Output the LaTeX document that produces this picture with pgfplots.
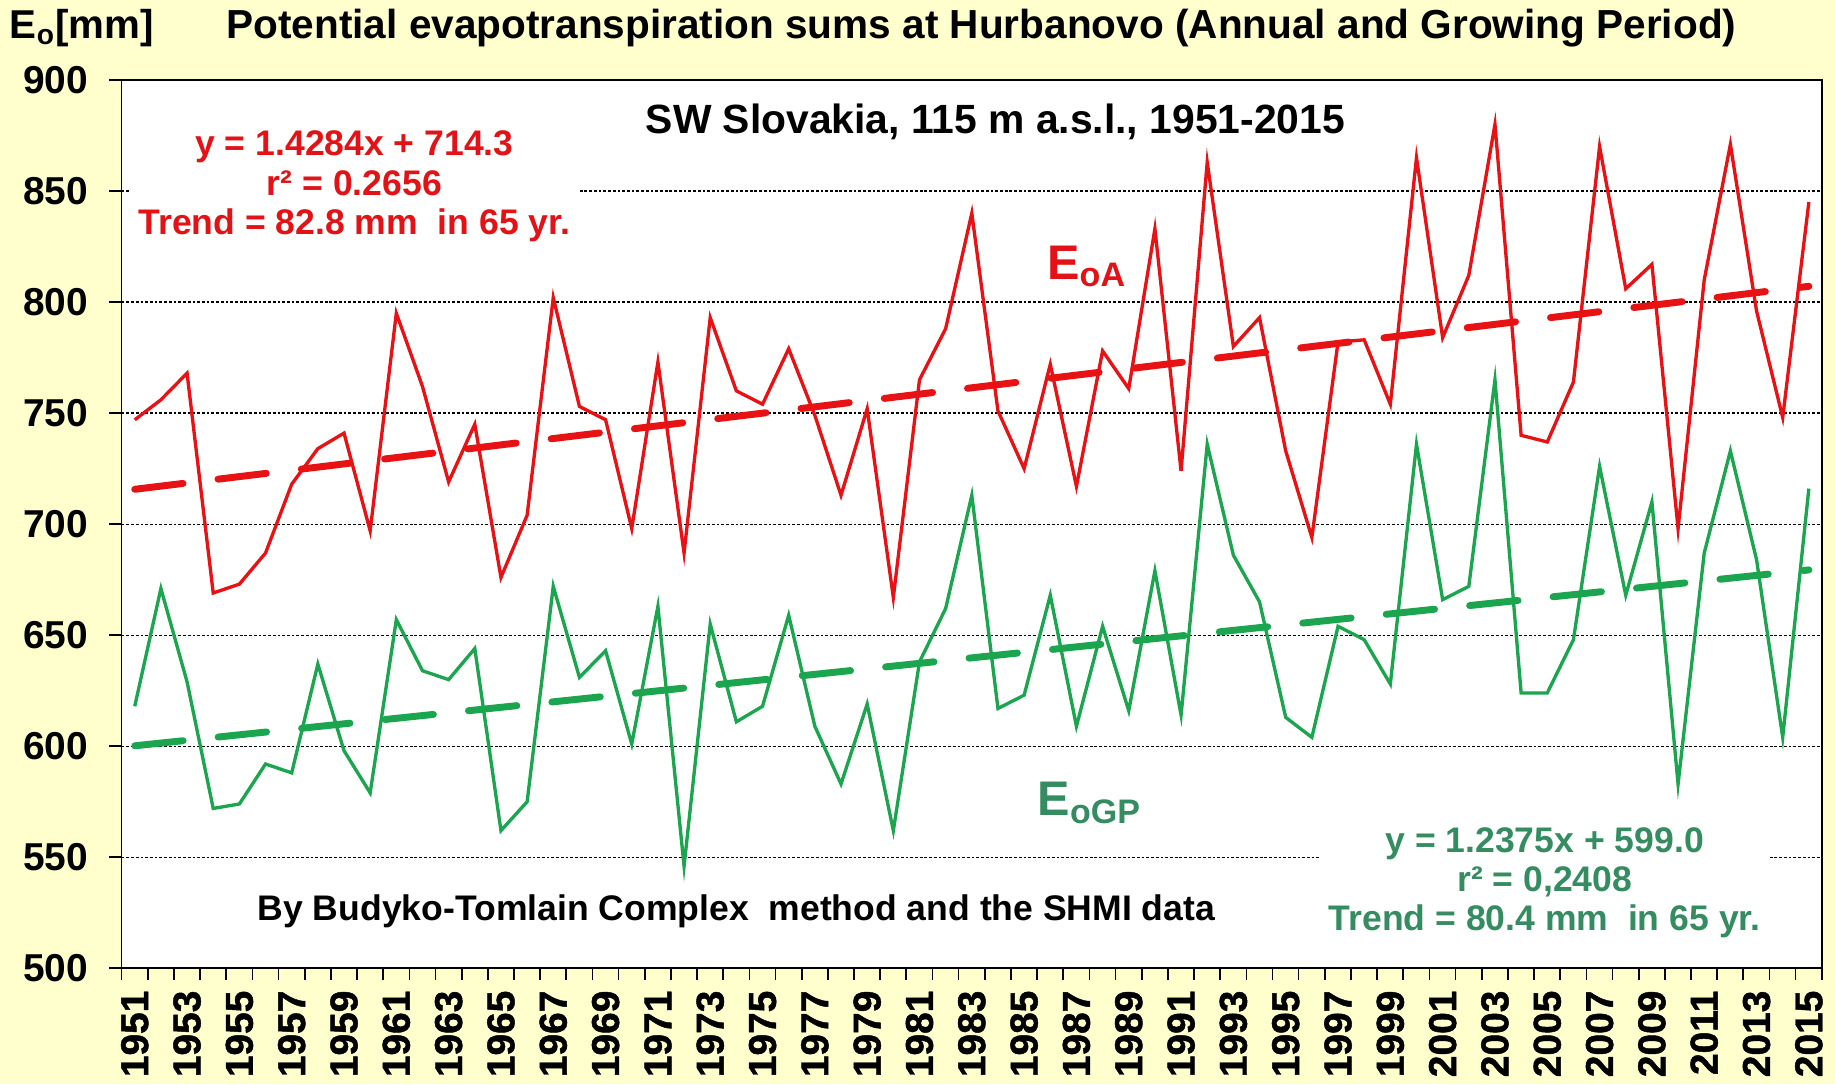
\documentclass[border=0pt]{standalone}
\usepackage{fontspec}
\setmainfont{Liberation Sans}
\newfontfamily\heavyfont{Liberation Sans}[BoldFeatures={FakeBold=1.2}]
\usepackage{pgfplots}
\pgfplotsset{compat=1.18}
\definecolor{bgy}{RGB}{255,255,206}
\definecolor{lred}{RGB}{232,18,20}
\definecolor{tred}{RGB}{226,18,22}
\definecolor{lgreen}{RGB}{26,165,78}
\definecolor{tgreen}{RGB}{52,140,96}

\pgfplotstableread{
year ea egp
1951 747 618
1952 756 671
1953 768 629
1954 669 572
1955 673 574
1956 687 592
1957 718 588
1958 734 637
1959 741 598
1960 697 579
1961 795 657
1962 762 634
1963 719 630
1964 745 644
1965 676 562
1966 704 575
1967 802 672
1968 753 631
1969 747 643
1970 698 601
1971 773 663
1972 687 546
1973 793 655
1974 760 611
1975 754 618
1976 779 659
1977 749 609
1978 713 583
1979 752 619
1980 667 562
1981 765 638
1982 788 662
1983 840 713
1984 751 617
1985 725 623
1986 772 668
1987 717 609
1988 778 654
1989 761 616
1990 833 679
1991 724 614
1992 863 736
1993 780 686
1994 793 665
1995 733 613
1996 694 604
1997 782 654
1998 783 648
1999 754 628
2000 865 736
2001 784 666
2002 812 672
2003 880 765
2004 740 624
2005 737 624
2006 764 648
2007 870 726
2008 806 668
2009 817 710
2010 698 583
2011 810 687
2012 871 733
2013 796 684
2014 748 604
2015 845 716
}\datatable

\pgfplotstableread{
year ea egp
1951 715.7 600.2
2015 807.1 679.4
}\trendtable

\begin{document}
\begin{tikzpicture}[x=1pt,y=1pt]
\fill[bgy] (-43.8,-41.65) rectangle (616.8,348.6);
\begin{axis}[
  at={(0pt,0pt)}, anchor=south west,
  scale only axis, width=612.1pt, height=319.8pt,
  xmin=1950.5, xmax=2015.5, ymin=500, ymax=900,
  axis background/.style={fill=white},
  axis line style={black, line width=0.6pt},
  ytick={500,550,...,900},
  xtick={1951,1953,...,2015},
  minor xtick={1950.5,1951.5,...,2015.5},
  every major x tick/.append style={draw=none},
  tick align=outside,
  xtick pos=left, ytick pos=left,
  major tick length=4.5pt, minor tick length=4.2pt,
  tick style={black, line width=0.6pt},
  ymajorgrids,
  major grid style={black, line width=0.45pt, dash pattern=on 1pt off 0.7pt},
  /pgf/number format/assume math mode=true,
  /pgf/number format/1000 sep={},
  ticklabel style={font=\fontsize{14}{14}\selectfont\bfseries},
  yticklabel style={xshift=-4pt},
  xticklabel style={rotate=90, anchor=east, font=\fontsize{14}{14}\selectfont\heavyfont\bfseries},
  clip=false,
]
\addplot[lred, line width=1.2pt, mark=none] table[x=year, y=ea] {\datatable};
\addplot[lgreen, line width=1.2pt, mark=none] table[x=year, y=egp] {\datatable};
\addplot[lred, line width=2.5pt, line cap=round, dash pattern=on 17.5pt off 12.7pt, mark=none] table[x=year, y=ea] {\trendtable};
\addplot[lgreen, line width=2.5pt, line cap=round, dash pattern=on 17.5pt off 12.7pt, mark=none] table[x=year, y=egp] {\trendtable};

\node[fill=white, inner xsep=3pt, inner ysep=1pt, align=center, text=tred,
      font=\fontsize{12.8}{14.2}\selectfont\bfseries] at (axis cs:1959.4,852.0)
  {y = 1.4284x + 714.3\\r² = 0.2656\\Trend = 82.8 mm\ \ in 65 yr.};
\node[fill=white, inner xsep=3pt, inner ysep=1pt, align=center, text=tgreen,
      font=\fontsize{12.8}{14.2}\selectfont\bfseries] at (axis cs:2004.9,538.5)
  {y = 1.2375x + 599.0\\r² = 0,2408\\Trend = 80.4 mm\ \ in 65 yr.};
\node[font=\fontsize{14.7}{14.7}\selectfont\bfseries, text=black] at (axis cs:1983.9,881.2)
  {SW Slovakia, 115 m a.s.l., 1951-2015};
\node[font=\fontsize{12.8}{12.8}\selectfont\bfseries, text=black] at (axis cs:1974.0,525.5)
  {By Budyko-Tomlain Complex\ \ method and the SHMI data};
\node[font=\fontsize{17.5}{17.5}\selectfont\bfseries, text=tred] at (axis cs:1987.4,815.9)
  {E\textsubscript{oA}};
\node[font=\fontsize{17.5}{17.5}\selectfont\bfseries, text=tgreen] at (axis cs:1987.5,574.5)
  {E\textsubscript{oGP}};
\end{axis}
\node[anchor=base west, inner sep=0pt, font=\fontsize{14.5}{14.5}\selectfont\bfseries] at (-40.4,334.9)
  {E\textsubscript{o}[mm]};
\node[anchor=base, inner sep=0pt, font=\fontsize{14.6}{14.6}\selectfont\bfseries] at (309.5,334.9)
  {Potential evapotranspiration sums at Hurbanovo (Annual and Growing Period)};
\pgfresetboundingbox
\useasboundingbox (-43.8,-41.65) rectangle (616.8,348.6);
\end{tikzpicture}
\end{document}
